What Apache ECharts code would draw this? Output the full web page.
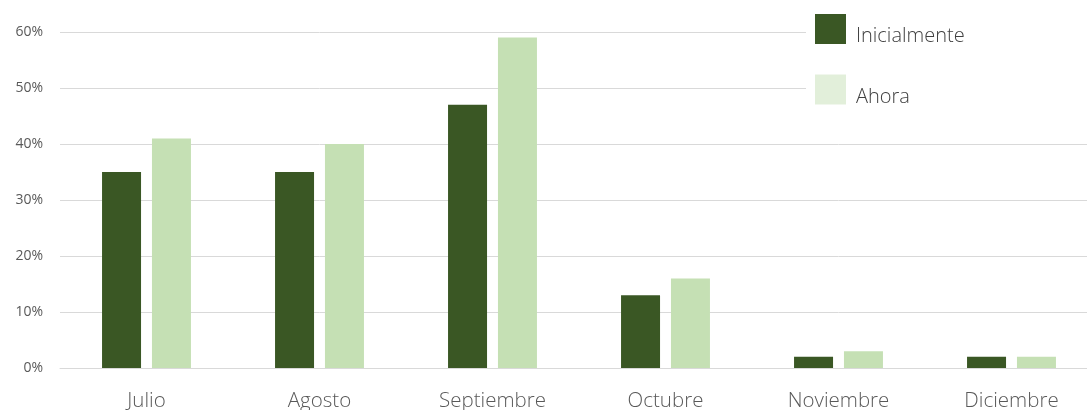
<!DOCTYPE html>
<html>
<head>
    <meta charset="utf-8">
    <title>Inicialmente vs Ahora</title>
    <script src="https://cdn.jsdelivr.net/npm/echarts@6/dist/echarts.min.js"></script>
    <style>
        html, body { margin: 0; padding: 0; background: #fff; overflow: hidden; }
        #main { width: 1100px; height: 410px; }
    </style>
</head>
<body>
<div id="main"></div>
<script type="text/javascript">
    // datos
    var meses = ['Julio', 'Agosto', 'Septiembre', 'Octubre', 'Noviembre', 'Diciembre'];
    var inicialmente = [35, 35, 47, 13, 2, 2];
    var ahora = [41, 40, 59, 16, 3, 2];

    var myChart = echarts.init(document.getElementById('main'));

    var option = {
        animation: false,
        textStyle: { fontFamily: 'Open Sans, Noto Sans, sans-serif' },
        grid: { left: 60, right: 2, top: 32, bottom: 42, outerBoundsMode: 'none' },
        legend: {
            orient: 'vertical',
            left: 806,
            top: 4,
            padding: [10, 200, 10, 9],
            backgroundColor: '#ffffff',
            itemWidth: 31,
            itemHeight: 30,
            itemGap: 28,
            icon: 'rect',
            formatter: '{t|{name}}',
            textStyle: {
                rich: {
                    t: { fontSize: 20, color: '#404040', fontWeight: 300, padding: [15, 0, 0, 5] }
                }
            },
            data: [
                { name: 'Inicialmente' },
                { name: 'Ahora', itemStyle: { color: '#E2EFDA' } }
            ]
        },
        xAxis: {
            type: 'category',
            data: meses,
            axisLine: { lineStyle: { color: '#d9d9d9' } },
            axisTick: { show: false },
            axisLabel: { fontSize: 20.5, color: '#595959', fontWeight: 300, margin: 23 }
        },
        yAxis: {
            type: 'value',
            min: 0,
            max: 60,
            interval: 10,
            axisLabel: { formatter: '{value}%', fontSize: 14, color: '#595959', margin: 17 },
            splitLine: { lineStyle: { color: '#d9d9d9' } }
        },
        series: [{
            name: 'Inicialmente',
            type: 'bar',
            barWidth: 39,
            barGap: '28%',
            itemStyle: { color: '#3A5724' },
            data: inicialmente
        }, {
            name: 'Ahora',
            type: 'bar',
            barWidth: 39,
            itemStyle: { color: '#C5E0B4' },
            data: ahora
        }]
    };
    myChart.setOption(option);
</script>
</body>
</html>
